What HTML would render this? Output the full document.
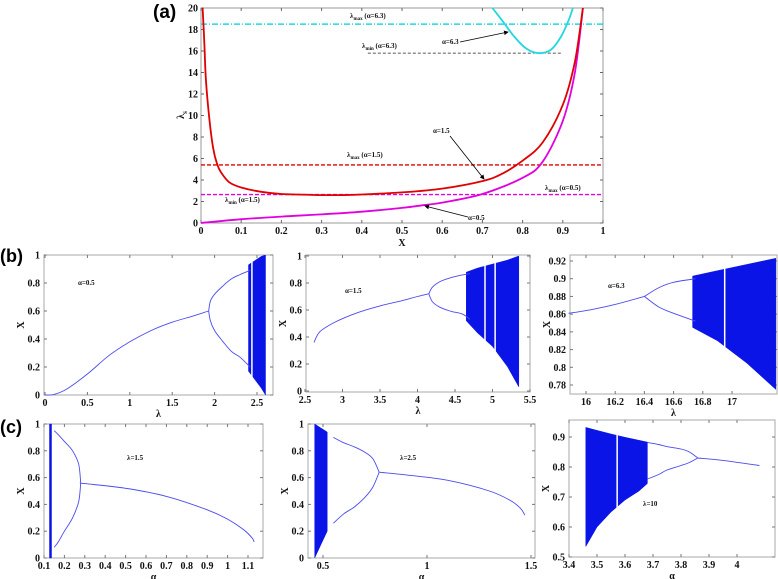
<!DOCTYPE html>
<html><head><meta charset="utf-8">
<style>
html,body{margin:0;padding:0;background:#fff;}
svg{display:block;font-family:"Liberation Serif",serif;}
.tk{font-size:10px;font-weight:bold;fill:#111;}
.sm{font-size:7px;font-weight:bold;fill:#111;}
</style></head>
<body>
<svg id="fig" width="778" height="579" viewBox="0 0 778 579" xmlns="http://www.w3.org/2000/svg"></svg>
<script>
// ---------- Panel (a) data ----------
var aRedX=[0.004,0.008,0.012,0.02,0.03,0.04,0.05,0.07,0.1,0.15,0.2,0.3,0.35,0.4,0.5,0.6,0.7,0.75,0.8,0.85,0.9,0.93,0.95];
var aRedY=[20,17,13.5,10,7,5.5,4.7,3.8,3.3,2.9,2.7,2.6,2.6,2.65,2.85,3.2,3.9,4.6,5.8,7.5,11,15,20];
var aMagX=[0,0.1,0.2,0.3,0.4,0.5,0.55,0.6,0.7,0.8,0.85,0.9,0.93,0.95];
var aMagY=[0,0.35,0.6,0.8,1.05,1.4,1.65,1.9,2.7,4.2,5.7,9.5,14,20];
var aCyanX=[0.725,0.75,0.78,0.81,0.84,0.87,0.895,0.915,0.925];
var aCyanY=[20,18.8,17.3,16.2,15.8,16.1,17.3,18.9,20];
var aHLines=[18.5,15.8,5.4,2.65];
var aXTicks=[0,0.1,0.2,0.3,0.4,0.5,0.6,0.7,0.8,0.9,1];
var aYTicks=[0,2,4,6,8,10,12,14,16,18,20];

// ---------- bifurcation data ----------
var b1FixX=[0,0.1,0.25,0.5,0.75,1,1.25,1.5,1.75,1.93];
var b1FixY=[0,0.003,0.04,0.15,0.28,0.38,0.46,0.52,0.565,0.6];
var b1UpX=[1.93,1.95,2.0,2.1,2.2,2.3,2.42];
var b1UpY=[0.6,0.67,0.72,0.78,0.83,0.86,0.89];
var b1LoY=[0.6,0.53,0.46,0.38,0.31,0.27,0.2];
var b1ChX=[2.4,2.45,2.5,2.55,2.6];
var b1ChTop=[0.93,0.95,0.97,0.99,1.0];
var b1ChBot=[0.17,0.13,0.09,0.05,0.0];
var b1Win=[2.44];

var b2FixX=[2.62,2.7,2.9,3.2,3.5,3.8,4.0,4.15];
var b2FixY=[0.36,0.44,0.51,0.58,0.63,0.67,0.7,0.72];
var b2UpX=[4.15,4.2,4.3,4.45,4.6,4.7];
var b2UpY=[0.72,0.77,0.81,0.84,0.86,0.87];
var b2LoY=[0.72,0.66,0.62,0.59,0.57,0.53];
var b2ChX=[4.65,4.8,5.0,5.2,5.35];
var b2ChTop=[0.88,0.91,0.94,0.97,1.0];
var b2ChBot=[0.52,0.43,0.33,0.18,0.03];
var b2Win=[4.9,5.035];

var b3FixX=[15.88,16.0,16.2,16.4];
var b3FixY=[0.861,0.864,0.871,0.88];
var b3UpX=[16.4,16.5,16.6,16.75];
var b3UpY=[0.88,0.89,0.896,0.9];
var b3LoY=[0.88,0.868,0.861,0.852];
var b3ChX=[16.73,16.9,17.1,17.3];
var b3ChTop=[0.903,0.909,0.916,0.923];
var b3ChBot=[0.845,0.83,0.805,0.775];
var b3Win=[16.95];

var c1FixX=[0.28,0.3,0.5,0.7,0.9,1.0,1.08,1.12,1.13];
var c1FixY=[0.56,0.555,0.52,0.46,0.36,0.29,0.21,0.15,0.12];
var c1UpX=[0.28,0.27,0.24,0.2,0.17,0.15];
var c1UpY=[0.56,0.7,0.8,0.87,0.92,0.95];
var c1LoY=[0.56,0.42,0.3,0.2,0.12,0.08];
var c1ChX=[0.127,0.137];
var c1ChTop=[1.0,1.0];
var c1ChBot=[0.0,0.0];
var c1Win=[];

var c2FixX=[0.77,0.9,1.1,1.3,1.4,1.45,1.47];
var c2FixY=[0.64,0.62,0.58,0.5,0.43,0.37,0.32];
var c2UpX=[0.77,0.74,0.7,0.65,0.6,0.55];
var c2UpY=[0.64,0.74,0.79,0.83,0.86,0.9];
var c2LoY=[0.64,0.53,0.45,0.38,0.33,0.26];
var c2ChX=[0.46,0.49,0.52];
var c2ChTop=[1.0,0.97,0.94];
var c2ChBot=[0.0,0.1,0.2];
var c2Win=[];

var c3FixX=[3.86,3.95,4.08];
var c3FixY=[0.83,0.822,0.805];
var c3UpX=[3.86,3.83,3.8,3.75,3.72,3.68];
var c3UpY=[0.83,0.85,0.86,0.868,0.875,0.882];
var c3LoY=[0.83,0.815,0.805,0.79,0.775,0.76];
var c3ChX=[3.46,3.5,3.55,3.6,3.65,3.68];
var c3ChTop=[0.932,0.922,0.91,0.899,0.889,0.883];
var c3ChBot=[0.535,0.6,0.65,0.69,0.72,0.745];
var c3Win=[3.572];

var NS="http://www.w3.org/2000/svg";
var svg=document.getElementById('fig');
function mk(tag,attrs,parent){var e=document.createElementNS(NS,tag);for(var k in attrs)e.setAttribute(k,attrs[k]);(parent||svg).appendChild(e);return e;}
function txt(x,y,s,cls,parent,anchor){var t=mk('text',{x:x,y:y,'class':cls,'text-anchor':anchor||'middle'},parent);t.textContent=s;return t;}
function lin(v0,p0,v1,p1){return function(v){return p0+(v-v0)*(p1-p0)/(v1-v0);};}
function pathD(xs,ys,sx,sy){
  var P=[];for(var i=0;i<xs.length;i++)P.push([sx(xs[i]),sy(ys[i])]);
  var d='M'+P[0][0].toFixed(1)+','+P[0][1].toFixed(1);
  for(var k=0;k<P.length-1;k++){
    var p0=P[k>0?k-1:k],p1=P[k],p2=P[k+1],p3=P[k+2<P.length?k+2:k+1];
    var c1x=p1[0]+(p2[0]-p0[0])/6,c1y=p1[1]+(p2[1]-p0[1])/6,c2x=p2[0]-(p3[0]-p1[0])/6,c2y=p2[1]-(p3[1]-p1[1])/6;
    d+='C'+c1x.toFixed(1)+','+c1y.toFixed(1)+' '+c2x.toFixed(1)+','+c2y.toFixed(1)+' '+p2[0].toFixed(1)+','+p2[1].toFixed(1);
  }
  return d;}

// ---------- Panel (a) ----------
var ga=mk('g',{});


var ax=lin(0,201,1,603), ay=lin(0,223,20,8);
var frame=mk('rect',{x:201,y:8,width:402,height:215,fill:'none',stroke:'#999','stroke-width':1},ga);


aXTicks.forEach(function(v){
  mk('line',{x1:ax(v),y1:223,x2:ax(v),y2:220,stroke:'#666'},ga);
  mk('line',{x1:ax(v),y1:8,x2:ax(v),y2:11,stroke:'#666'},ga);
  var t=txt(ax(v),234,String(v),'tk',ga);
  
  
});
aYTicks.forEach(function(v){
  mk('line',{x1:201,y1:ay(v),x2:204,y2:ay(v),stroke:'#666'},ga);
  mk('line',{x1:603,y1:ay(v),x2:600,y2:ay(v),stroke:'#666'},ga);
  var t=txt(198,ay(v)+3.5,String(v),'tk',ga,'end');
  
  
});
var hStyles=[{c:'#22d8e0',d:'6,2,1,2',x0:0,x1:1,n:'lambda-max-a63-line'},{c:'#222',d:'3,2',x0:0.415,x1:0.9,n:'lambda-min-a63-line'},{c:'#e00000',d:'4,2',x0:0,x1:1,n:'lambda-max-a15-line'},{c:'#e000e0',d:'4,2',x0:0,x1:1,n:'lambda-max-a05-line'}];
aHLines.forEach(function(v,i){
  var s=hStyles[i];
  var l=mk('line',{x1:ax(s.x0),y1:ay(v),x2:ax(s.x1),y2:ay(v),stroke:s.c,'stroke-width':i==1?0.8:1.4,'stroke-dasharray':s.d},ga);
  
  
});
var cm=mk('path',{d:pathD(aMagX,aMagY,ax,ay),fill:'none',stroke:'#e000e0','stroke-width':1.8},ga);


var cr=mk('path',{d:pathD(aRedX,aRedY,ax,ay),fill:'none',stroke:'#e00000','stroke-width':1.8},ga);


var cc=mk('path',{d:pathD(aCyanX,aCyanY,ax,ay),fill:'none',stroke:'#22d8e0','stroke-width':1.8},ga);


var defs=mk('defs',{});
var mkr=mk('marker',{id:'ah',markerWidth:6,markerHeight:6,refX:5,refY:3,orient:'auto'},defs);
mk('path',{d:'M0,0L6,3L0,6z',fill:'#000'},mkr);
function arrow(x1,y1,x2,y2,name){var l=mk('line',{x1:x1,y1:y1,x2:x2,y2:y2,stroke:'#000','stroke-width':0.8,'marker-end':'url(#ah)'},ga);}
arrow(460,42,508,32,'arrow-alpha-6.3');
arrow(450,136,484,179,'arrow-alpha-1.5');
arrow(468,217,425,206,'arrow-alpha-0.5');
function lab(x,y,main,sub,rest,name){var t=mk('text',{x:x,y:y,'class':'sm','text-anchor':'start'},ga);
 var a=mk('tspan',{},t);a.textContent=main;if(sub){var b=mk('tspan',{dy:2,'font-size':'5px'},t);b.textContent=sub;var c=mk('tspan',{dy:-2},t);c.textContent=rest;}}
lab(350,18,'λ','max',' (α=6.3)','label-lambda-max-a63');
lab(362,48,'λ','min',' (α=6.3)','label-lambda-min-a63');
lab(442,44,'α=6.3',null,null,'label-alpha-6.3');
lab(433,133,'α=1.5',null,null,'label-alpha-1.5');
lab(347,157,'λ','max',' (α=1.5)','label-lambda-max-a15');
lab(545,190,'λ','max',' (α=0.5)','label-lambda-max-a05');
lab(225,202,'λ','min',' (α=1.5)','label-lambda-min-a15');
lab(468,220,'α=0.5',null,null,'label-alpha-0.5');
var xl=txt(402,246,'X','tk',ga);xl.setAttribute('font-size','12px');


var yl=mk('text',{x:0,y:0,'class':'tk',transform:'translate(184,115) rotate(-90)','text-anchor':'middle'},ga);


var y1=mk('tspan',{},yl);y1.textContent='λ';var y2=mk('tspan',{dy:3,'font-size':'7px'},yl);y2.textContent='s';
var pa=mk('text',{x:153,y:18,'font-family':'Liberation Sans, sans-serif','font-weight':'bold','font-size':'19px'});pa.textContent='(a)';



// ---------- bifurcation panels ----------
function bif(cfg,fx,fy,ux,uy,ly,chx,cht,chb,win){
  var g=mk('g',{});
  
  
  var sx=lin(cfg.xa[0],cfg.xa[1],cfg.xa[2],cfg.xa[3]), sy=lin(cfg.ya[0],cfg.ya[1],cfg.ya[2],cfg.ya[3]);
  var b=cfg.box;
  var fr=mk('rect',{x:b[0],y:b[1],width:b[2]-b[0],height:b[3]-b[1],fill:'none',stroke:'#aaa','stroke-width':1},g);
  
  
  cfg.xt.forEach(function(v){var X=sx(v);mk('line',{x1:X,y1:b[3],x2:X,y2:b[3]-3,stroke:'#777'},g);mk('line',{x1:X,y1:b[1],x2:X,y2:b[1]+3,stroke:'#777'},g);
    var t=txt(X,b[3]+11,String(v),'tk',g);t.setAttribute('font-size',cfg.fs);});
  cfg.yt.forEach(function(v){var Y=sy(v);mk('line',{x1:b[0],y1:Y,x2:b[0]+3,y2:Y,stroke:'#777'},g);mk('line',{x1:b[2],y1:Y,x2:b[2]-3,y2:Y,stroke:'#777'},g);
    var t=txt(b[0]-4,Y+3.5,String(v),'tk',g,'end');t.setAttribute('font-size',cfg.fs);});
  var d='';for(var i=0;i<chx.length;i++)d+=(i?'L':'M')+sx(chx[i]).toFixed(1)+','+sy(cht[i]).toFixed(1);
  for(var j=chx.length-1;j>=0;j--)d+='L'+sx(chx[j]).toFixed(1)+','+sy(chb[j]).toFixed(1);
  var ch=mk('path',{d:d+'Z',fill:'#0a14e6',stroke:'#0a14e6','stroke-width':0.5},g);
  
  
  win.forEach(function(v){var w=mk('line',{x1:sx(v),y1:b[1]+1,x2:sx(v),y2:b[3]-1,stroke:'#fff','stroke-width':1.5},g);
    
    });
  var p1=mk('path',{d:pathD(fx,fy,sx,sy),fill:'none',stroke:'#4a4af0','stroke-width':0.9},g);
  
  
  var p2=mk('path',{d:pathD(ux,uy,sx,sy),fill:'none',stroke:'#4a4af0','stroke-width':0.9},g);
  
  
  var p3=mk('path',{d:pathD(ux,ly,sx,sy),fill:'none',stroke:'#4a4af0','stroke-width':0.9},g);
  
  
  var xt=txt((b[0]+b[2])/2,b[3]+22,cfg.xlab,'tk',g);xt.setAttribute('font-size','9px');
  
  
  var yt=mk('text',{x:0,y:0,'class':'tk','font-size':'9px',transform:'translate('+(b[0]-20)+','+((b[1]+b[3])/2)+') rotate(-90)','text-anchor':'middle'},g);
  yt.textContent='X';
  
  
  var an=txt(cfg.ann[0],cfg.ann[1],cfg.ann[2],'sm',g,'start');an.setAttribute('font-size','6px');
  
  
}
bif({name:'panel-b1-alpha-0.5',box:[44,255,273,395],xa:[0,45,2.5,257],ya:[0,395,1,255],xt:[0,0.5,1,1.5,2,2.5],yt:[0,0.2,0.4,0.6,0.8,1],fs:'9px',xlab:'λ',ann:[78,285,'α=0.5']},b1FixX,b1FixY,b1UpX,b1UpY,b1LoY,b1ChX,b1ChTop,b1ChBot,b1Win);
bif({name:'panel-b2-alpha-1.5',box:[306,255,530,392],xa:[2.5,305,5.5,530],ya:[0,391,1,256],xt:[2.5,3,3.5,4,4.5,5,5.5],yt:[0,0.2,0.4,0.6,0.8,1],fs:'9px',xlab:'λ',ann:[345,293,'α=1.5']},b2FixX,b2FixY,b2UpX,b2UpY,b2LoY,b2ChX,b2ChTop,b2ChBot,b2Win);
bif({name:'panel-b3-alpha-6.3',box:[570,255,777,394],xa:[16,586,17,732],ya:[0.78,385,0.92,261],xt:[16,16.2,16.4,16.6,16.8,17],yt:[0.78,0.8,0.82,0.84,0.86,0.88,0.9,0.92],fs:'6.5px',xlab:'λ',ann:[608,288,'α=6.3']},b3FixX,b3FixY,b3UpX,b3UpY,b3LoY,b3ChX,b3ChTop,b3ChBot,b3Win);
bif({name:'panel-c1-lambda-1.5',box:[44,424,263,558],xa:[0.1,44,1.1,248],ya:[0,558,1,424],xt:[0.1,0.2,0.3,0.4,0.5,0.6,0.7,0.8,0.9,1,1.1],yt:[0,0.2,0.4,0.6,0.8,1],fs:'8.5px',xlab:'α',ann:[127,460,'λ=1.5']},c1FixX,c1FixY,c1UpX,c1UpY,c1LoY,c1ChX,c1ChTop,c1ChBot,c1Win);
bif({name:'panel-c2-lambda-2.5',box:[308,424,535,558],xa:[0.5,323,1.5,531],ya:[0,558,1,424],xt:[0.5,1,1.5],yt:[0,0.2,0.4,0.6,0.8,1],fs:'9px',xlab:'α',ann:[400,460,'λ=2.5']},c2FixX,c2FixY,c2UpX,c2UpY,c2LoY,c2ChX,c2ChTop,c2ChBot,c2Win);
bif({name:'panel-c3-lambda-10',box:[569,420,775,557],xa:[3.4,569,4.0,737],ya:[0.5,557,0.9,437],xt:[3.4,3.5,3.6,3.7,3.8,3.9,4],yt:[0.5,0.6,0.7,0.8,0.9],fs:'9px',xlab:'α',ann:[643,506,'λ=10']},c3FixX,c3FixY,c3UpX,c3UpY,c3LoY,c3ChX,c3ChTop,c3ChBot,c3Win);
var pb=mk('text',{x:0,y:262,'font-family':'Liberation Sans, sans-serif','font-weight':'bold','font-size':'18px'});pb.textContent='(b)';


var pc=mk('text',{x:0,y:433,'font-family':'Liberation Sans, sans-serif','font-weight':'bold','font-size':'18px'});pc.textContent='(c)';


</script>
</body></html>
